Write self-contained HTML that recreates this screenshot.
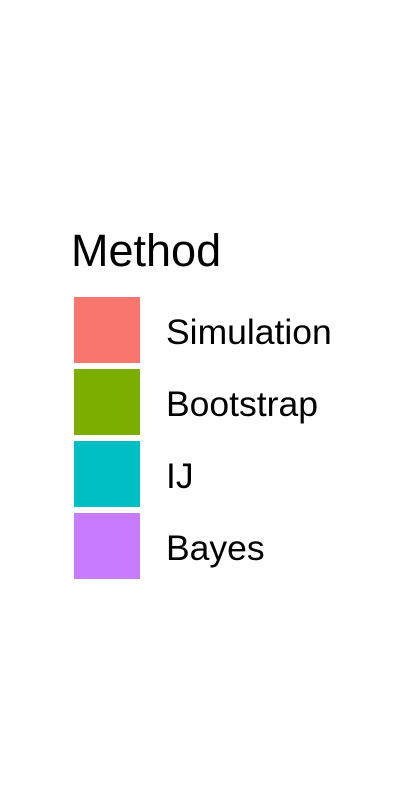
<!DOCTYPE html>
<html><head><meta charset="utf-8"><style>
html,body{margin:0;padding:0;background:#fff;}
body{width:405px;height:810px;position:relative;overflow:hidden;font-family:"Liberation Sans",sans-serif;}
.t{position:absolute;left:71px;top:225px;font-size:45px;line-height:52px;color:#000;white-space:nowrap;}
.sw{position:absolute;left:74px;width:66px;height:66px;}
.lb{position:absolute;left:166px;font-size:35.5px;line-height:40px;color:#000;white-space:nowrap;}
</style></head><body>
<div id="legend">
<div class="t">Method</div>
</div>
<script>
const methods=["Simulation","Bootstrap","IJ","Bayes"];
const colors=["#F8766D","#7CAE00","#00BFC4","#C77CFF"];
const lg=document.getElementById('legend');
methods.forEach((m,i)=>{
  const top=297+i*72;
  const s=document.createElement('div');
  s.className='sw';s.style.top=top+'px';s.style.background=colors[i];
  
  
  lg.appendChild(s);
  const l=document.createElement('div');
  l.className='lb';l.style.top=(top+15)+'px';l.textContent=m;
  
  
  lg.appendChild(l);
});
</script>
</body></html>
